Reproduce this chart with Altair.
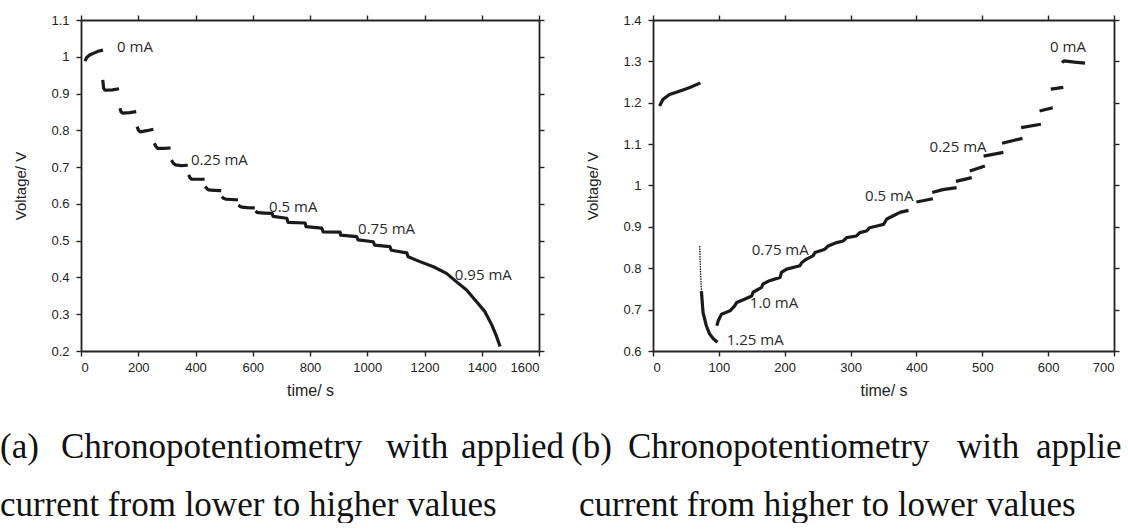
import altair as alt
import pandas as pd

# ---------------- (a) current raised step by step, 0 -> 0.95 mA ----------------
a_time_steps = [
    [14, 20, 30, 45, 60, 77],
    [76, 79, 84, 110, 133],
    [136, 140, 146, 170, 193],
    [196, 201, 207, 230, 253],
    [256, 262, 268, 290, 313],
    [316, 322, 330, 350, 373],
    [376, 381, 387, 405, 432],
    [434, 440, 446, 465, 490],
    [492, 498, 505, 525, 548],
    [550, 556, 563, 580, 607],
    [610, 615, 620, 640, 668, 671, 719, 723, 783, 786, 841, 846, 905, 907, 963,
     968, 1021, 1026, 1079, 1084, 1138, 1143, 1184, 1231, 1277, 1312, 1347, 1382,
     1411, 1435, 1452, 1464],
]
a_volt_steps = [
    [0.988, 0.998, 1.005, 1.010, 1.015, 1.018],
    [0.937, 0.915, 0.909, 0.910, 0.913],
    [0.860, 0.850, 0.847, 0.848, 0.851],
    [0.810, 0.800, 0.796, 0.799, 0.803],
    [0.765, 0.756, 0.751, 0.751, 0.752],
    [0.719, 0.711, 0.706, 0.704, 0.705],
    [0.679, 0.671, 0.667, 0.667, 0.667],
    [0.647, 0.641, 0.638, 0.637, 0.636],
    [0.620, 0.615, 0.613, 0.612, 0.611],
    [0.597, 0.593, 0.591, 0.590, 0.589],
    [0.581, 0.577, 0.576, 0.575, 0.574, 0.566, 0.561, 0.550, 0.548, 0.538, 0.534,
     0.524, 0.523, 0.515, 0.511, 0.502, 0.497, 0.488, 0.484, 0.474, 0.467, 0.456,
     0.443, 0.429, 0.411, 0.388, 0.366, 0.334, 0.307, 0.271, 0.239, 0.212],
]
a_label_text = ["0 mA", "0.25 mA", "0.5 mA", "0.75 mA", "0.95 mA"]
a_label_time = [126, 384, 657, 968, 1306]
a_label_volt = [1.027, 0.719, 0.592, 0.531, 0.408]
a_x_ticks = [0, 200, 400, 600, 800, 1000, 1200, 1400, 1600]
a_y_ticks = [0.2, 0.3, 0.4, 0.5, 0.6, 0.7, 0.8, 0.9, 1.0, 1.1]

# ---------------- (b) current lowered step by step, 1.25 -> 0 mA ----------------
b_time_steps = [
    [10, 15, 25, 40, 56, 72],
    [73.5, 76, 81, 86, 92, 98],
    [97, 99, 104, 117, 124, 127, 139, 150, 152, 165, 167, 177, 193, 195, 203, 223,
     226, 233, 243, 246, 261, 266, 279, 289, 294, 309, 314, 324, 329, 340, 350,
     355, 365, 375, 388],
    [400, 425],
    [424, 440, 461],
    [460, 484],
    [481, 504],
    [502, 532],
    [530, 561],
    [559, 589],
    [587, 607],
    [604, 623],
    [621, 624, 640, 656],
]
b_volt_steps = [
    [1.192, 1.208, 1.220, 1.228, 1.237, 1.248],
    [0.745, 0.693, 0.661, 0.641, 0.629, 0.621],
    [0.661, 0.673, 0.689, 0.697, 0.709, 0.717, 0.725, 0.733, 0.742, 0.754, 0.762,
     0.770, 0.778, 0.790, 0.798, 0.806, 0.814, 0.822, 0.830, 0.838, 0.846, 0.854,
     0.862, 0.866, 0.874, 0.878, 0.886, 0.890, 0.898, 0.902, 0.906, 0.919, 0.927,
     0.935, 0.940],
    [0.960, 0.968],
    [0.983, 0.990, 0.995],
    [1.010, 1.019],
    [1.035, 1.047],
    [1.071, 1.080],
    [1.102, 1.114],
    [1.140, 1.148],
    [1.180, 1.188],
    [1.233, 1.237],
    [1.297, 1.301, 1.298, 1.296],
]
# sparse points of the fast drop right after switching to 1.25 mA
b_spike_time = [71, 72, 73.5]
b_spike_volt = [0.854, 0.800, 0.745]
b_label_text = ["0 mA", "0.25 mA", "0.5 mA", "0.75 mA", "1.0 mA", "1.25 mA"]
b_label_time = [603, 420, 322, 150, 147, 112]
b_label_volt = [1.334, 1.092, 0.975, 0.844, 0.716, 0.626]
b_x_ticks = [0, 100, 200, 300, 400, 500, 600, 700]
b_y_ticks = [0.6, 0.7, 0.8, 0.9, 1.0, 1.1, 1.2, 1.3, 1.4]

a_caption_words = ["(a)", "Chronopotentiometry", "with", "applied"]
a_caption_line2 = "current from lower to higher values"
b_caption_words = ["(b)", "Chronopotentiometry", "with", "applied"]
b_caption_line2 = "current from higher to lower values"

INK = "#1a1a1a"
AXIS = "#222222"
SANS = "Liberation Sans"
SERIF = "Liberation Serif"
CAP_SIZE = 35


def steps_frame(times, volts):
    rows = []
    for k, (ts, vs) in enumerate(zip(times, volts)):
        for t, v in zip(ts, vs):
            rows.append({"t": t, "v": v, "step": k})
    return pd.DataFrame(rows)


def panel(times, volts, lab_text, lab_time, lab_volt, xdom, ydom, xticks, yticks,
          width, words, word_x, line2, line2_x, spike=None, anchor=False, limit_last=None):
    height = 331
    xs = alt.Scale(domain=xdom, nice=False, zero=False)
    ys = alt.Scale(domain=ydom, nice=False, zero=False)

    x_main = alt.X("t:Q", scale=xs, axis=alt.Axis(
        orient="bottom", values=xticks, format="d", title="time/ s", labelPadding=5,
        titleY=39, titleBaseline="middle", titleFontSize=16))
    y_main = alt.Y("v:Q", scale=ys, axis=alt.Axis(
        orient="left", values=yticks, format="~g", title="Voltage/ V", labelPadding=7,
        titleX=-61, titleY=height / 2, titleAlign="center",
        titleBaseline="middle", titleAngle=270, titleFontSize=15))
    x_top = alt.X("t:Q", scale=xs, axis=alt.Axis(
        orient="top", values=xticks, labels=False, title=None))
    y_right = alt.Y("v:Q", scale=ys, axis=alt.Axis(
        orient="right", values=yticks, labels=False, title=None))

    trace = alt.Chart(steps_frame(times, volts)).mark_line(
        color=INK, strokeWidth=3.2, strokeJoin="round"
    ).encode(x=x_main, y=y_main, detail="step:N")

    labels = alt.Chart(pd.DataFrame({"t": lab_time, "v": lab_volt, "label": lab_text})).mark_text(
        align="left", baseline="middle", font="Open Sans", fontSize=15, color="#2a2a2a"
    ).encode(x=x_top, y=y_right, text="label:N")

    layers = [trace]
    if spike is not None:
        layers.append(alt.Chart(pd.DataFrame({"t": spike[0], "v": spike[1]})).mark_line(
            color=INK, strokeWidth=1.3, strokeDash=[1.5, 1]
        ).encode(x=alt.X("t:Q", scale=xs, axis=None), y=alt.Y("v:Q", scale=ys, axis=None)))
    layers.append(labels)

    one = pd.DataFrame({"k": [0]})
    for i, (w, px) in enumerate(zip(words, word_x)):
        kw = {}
        if limit_last is not None and i == len(words) - 1:
            kw = {"limit": limit_last, "ellipsis": "\u200b"}
        layers.append(alt.Chart(one).mark_text(
            text=w, align="left", baseline="alphabetic", font=SERIF,
            fontSize=CAP_SIZE, color="#111111", **kw
        ).encode(x=alt.value(px), y=alt.value(438)))
    layers.append(alt.Chart(one).mark_text(
        text=line2, align="left", baseline="alphabetic", font=SERIF,
        fontSize=CAP_SIZE, color="#111111"
    ).encode(x=alt.value(line2_x), y=alt.value(496)))

    if anchor:
        layers.append(alt.Chart(one).mark_rule(opacity=0).encode(
            x=alt.value(-81), x2=alt.value(-80), y=alt.value(-20), y2=alt.value(-19)))

    return alt.layer(*layers).resolve_axis(x="independent", y="independent").properties(
        width=width, height=height)


left = panel(a_time_steps, a_volt_steps, a_label_text, a_label_time, a_label_volt,
             [0, 1600], [0.2, 1.1], a_x_ticks, a_y_ticks, 458,
             a_caption_words, [-81, -20, 305, 380], a_caption_line2, -81, anchor=True)
right = panel(b_time_steps, b_volt_steps, b_label_text, b_label_time, b_label_volt,
              [0, 700], [0.6, 1.4], b_x_ticks, b_y_ticks, 461,
              b_caption_words, [-82, -25, 304, 383], b_caption_line2, -74,
              spike=(b_spike_time, b_spike_volt), limit_last=92)

chart = alt.hconcat(left, right, spacing=114, bounds="flush").properties(
    padding={"left": 0, "top": 0, "right": 0, "bottom": 0},
    autosize=alt.AutoSizeParams(type="pad"),
).configure_view(stroke=None).configure_axis(
    grid=False, domainColor=AXIS, domainWidth=1.8, tickColor=AXIS, tickWidth=1.4,
    tickSize=5, labelFont=SANS, labelFontSize=13, labelColor=AXIS,
    titleFont=SANS, titleFontWeight="normal", titleColor=AXIS,
)

chart.save("out.html", embed_options={"renderer": "svg", "actions": False})
